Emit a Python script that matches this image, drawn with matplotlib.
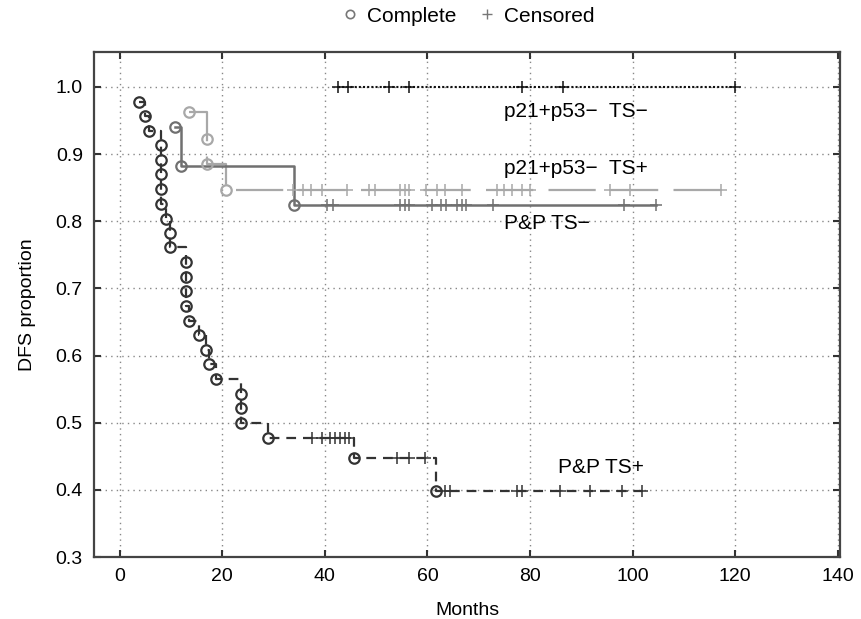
"""Kaplan-Meier style DFS curves for four p21/p53/TS groups."""

import matplotlib.pyplot as plt
from matplotlib.lines import Line2D

plt.rcParams["font.family"] = ["Liberation Sans", "DejaVu Sans"]
plt.rcParams["lines.scale_dashes"] = False

# P&P TS+ : event times / survival after each event / censored times
pp_pos_t = [3.8, 4.9, 5.7, 8.0, 8.0, 8.0, 8.0, 8.0, 9.0, 9.9, 9.9, 13.0, 13.0,
            13.0, 13.0, 13.6, 15.5, 16.9, 17.5, 18.7, 23.7, 23.7, 23.7, 28.9,
            45.7, 61.6]
pp_pos_s = [0.977, 0.957, 0.935, 0.913, 0.891, 0.870, 0.848, 0.826, 0.804,
            0.783, 0.761, 0.739, 0.717, 0.696, 0.674, 0.652, 0.630, 0.609,
            0.587, 0.565, 0.543, 0.522, 0.500, 0.478, 0.447, 0.398]
pp_pos_cens = [37.5, 39.5, 41.0, 42.0, 43.0, 44.0, 44.7, 54.0, 56.5, 59.5,
               63.4, 64.3, 77.4, 78.4, 85.8, 91.6, 97.9, 101.8]

# P&P TS-
pp_neg_t = [10.8, 11.9, 33.9]
pp_neg_s = [0.941, 0.882, 0.824]
pp_neg_cens = [40.5, 41.5, 54.6, 55.6, 56.5, 60.8, 62.6, 63.7, 65.7, 66.7,
               67.6, 72.7, 98.4, 104.5]

# p21+p53- TS+
p21_pos_t = [13.6, 17.0, 17.0, 20.7]
p21_pos_s = [0.962, 0.923, 0.885, 0.846]
p21_pos_cens = [33.7, 35.7, 37.4, 39.4, 44.4, 48.7, 49.7, 54.6, 55.6, 56.5,
                59.8, 61.8, 63.4, 66.7, 73.5, 75.0, 76.4, 78.4, 79.9, 95.5,
                99.4, 117.3]

# p21+p53- TS- (no events)
p21_neg_t = []
p21_neg_s = []
p21_neg_cens = [42.5, 44.5, 52.5, 56.5, 78.5, 86.5, 120.0]

x_ticks = [0, 20, 40, 60, 80, 100, 120, 140]
y_ticks = [0.3, 0.4, 0.5, 0.6, 0.7, 0.8, 0.9, 1.0]


def km_path(times, surv, cens):
    if not times:
        return [min(cens), max(cens)], [1.0, 1.0]
    xs, ys = [times[0]], [surv[0]]
    for t, s in zip(times[1:], surv[1:]):
        xs += [t, t]
        ys += [ys[-1], s]
    xs.append(max(cens))
    ys.append(ys[-1])
    return xs, ys


def level_at(times, surv, c):
    lev = 1.0
    for t, s in zip(times, surv):
        if t <= c:
            lev = s
    return lev


def draw_group(ax, times, surv, cens, color, ls, lw):
    xs, ys = km_path(times, surv, cens)
    ax.plot(xs, ys, color=color, linestyle=ls, linewidth=lw, zorder=3)
    cy = [level_at(times, surv, c) for c in cens]
    ax.plot(cens, cy, linestyle="none", marker="+", markersize=8,
            markeredgewidth=1.1, color=color, zorder=4)
    if times:
        ax.plot(times, surv, linestyle="none", marker="o", markersize=7.5,
                markerfacecolor="none", markeredgewidth=1.6, color=color,
                zorder=5)


def main() -> None:
    fig = plt.figure(figsize=(8.62, 6.19), dpi=100)
    ax = fig.add_axes([0.109, 0.1, 0.866, 0.816])

    draw_group(ax, p21_neg_t, p21_neg_s, p21_neg_cens, "#111111", (0, (1.5, 1.5)), 1.5)
    draw_group(ax, p21_pos_t, p21_pos_s, p21_pos_cens, "#a8a8a8", (0, (34, 11)), 1.6)
    draw_group(ax, pp_neg_t, pp_neg_s, pp_neg_cens, "#707070", "-", 1.8)
    draw_group(ax, pp_pos_t, pp_pos_s, pp_pos_cens, "#333333", (0, (7, 5)), 1.6)

    ax.text(75, 0.963, "p21+p53\u2212  TS\u2212", fontsize=15, va="center")
    ax.text(75, 0.879, "p21+p53\u2212  TS+", fontsize=15, va="center")
    ax.text(75, 0.797, "P&P TS\u2212", fontsize=15, va="center")
    ax.text(85.5, 0.434, "P&P TS+", fontsize=15, va="center")

    ax.set_xlim(-5, 140.5)
    ax.set_ylim(0.3, 1.052)
    ax.set_xticks(x_ticks)
    ax.set_yticks(y_ticks)
    ax.set_yticklabels([f"{v:.1f}" for v in y_ticks])
    ax.tick_params(direction="in", length=5, width=1.5, top=True, right=True,
                   labelsize=14, color="#333333", pad=8)
    ax.grid(True, linestyle=(0, (1, 3)), color="#888888", linewidth=1)
    for sp in ax.spines.values():
        sp.set_linewidth(1.6)
        sp.set_color("#444444")
    ax.set_xlabel("Months", fontsize=14, labelpad=12)
    ax.set_ylabel("DFS proportion", fontsize=14, labelpad=14)

    handles = [
        Line2D([], [], linestyle="none", marker="o", markersize=6,
               markerfacecolor="none", markeredgewidth=1.2, color="#777777"),
        Line2D([], [], linestyle="none", marker="+", markersize=7,
               markeredgewidth=1.0, color="#777777"),
    ]
    fig.legend(handles, ["Complete", "Censored"], loc="center",
               bbox_to_anchor=(0.542, 0.974), ncol=2, frameon=False,
               fontsize=15, handlelength=1.0, handletextpad=0.3,
               columnspacing=1.0)

    fig.savefig("out.png", dpi=100)
    plt.close(fig)


if __name__ == "__main__":
    main()
